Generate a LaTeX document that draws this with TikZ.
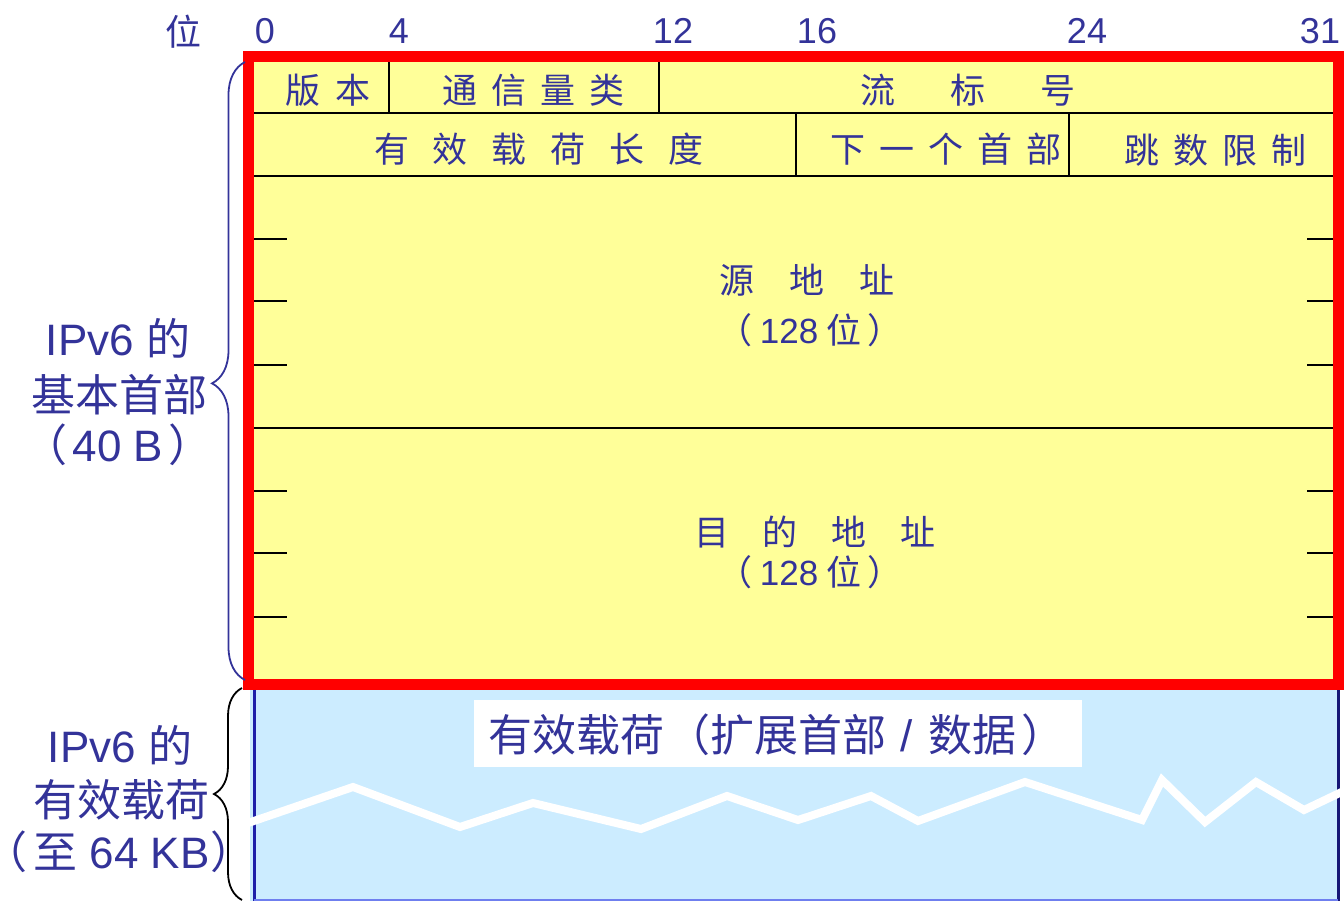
\documentclass[tikz,border=0pt]{standalone}
\usepackage{fontspec}
\setmainfont{Liberation Sans}
\newfontfamily\cjk{Noto Sans CJK SC}
\newfontfamily\cjkh{Noto Sans CJK SC}[RawFeature=+halt]
\usetikzlibrary{decorations.pathreplacing}
\definecolor{txtblue}{HTML}{333399}
\definecolor{hdryellow}{HTML}{FFFF99}
\definecolor{paylblue}{HTML}{CCECFF}
\definecolor{frred}{HTML}{FF0000}
\definecolor{edgeblue}{HTML}{1F1FA8}
\definecolor{botblue}{HTML}{6F7FEF}
\newcommand\gp[1]{\hspace{#1pt}}
\begin{document}
\begin{tikzpicture}[x=1pt,y=-1pt,
  cell/.style={text=txtblue, inner sep=0pt, font=\cjk\fontsize{35}{40}\selectfont},
  bitnum/.style={text=txtblue, inner sep=0pt, font=\fontsize{36}{40}\selectfont},
  sidelbl/.style={text=txtblue, inner sep=0pt, font=\fontsize{44}{50}\selectfont},
  gridline/.style={black, line width=1.8pt},
  ]
\useasboundingbox (0,0) rectangle (1344,901);

% payload area
\fill[paylblue] (250,684) rectangle (1340,901);
\draw[edgeblue, line width=3pt] (254,684) -- (254,901);
\draw[edgeblue!70!black, line width=3pt] (1338,684) -- (1338,901);
\draw[botblue, line width=2pt] (254,900) -- (1338,900);
\draw[white, line width=8pt, line join=miter]
  (248,823) -- (353,787) -- (460,827) -- (533,803) -- (641,829) -- (727,796)
  -- (798,820) -- (871,796) -- (918,821) -- (1025,782) -- (1142,820) -- (1162,780)
  -- (1205,822) -- (1256,782) -- (1304,810) -- (1350,788);
\node (plbox) [fill=white, inner sep=0pt, minimum width=608pt, minimum height=67pt] at (778,733.5) {};
\node[sidelbl] (pltxt) at (777,735) {\cjk 有效载荷\kern2pt（扩展首部\hspace{14pt}{\rmfamily /}\hspace{16pt}数据\kern5pt）};

% header area
\fill[hdryellow] (248,56) rectangle (1339,685);
\draw[gridline] (254,113) -- (1333,113);
\draw[gridline] (254,176) -- (1333,176);
\draw[gridline] (254,428) -- (1333,428);
\draw[gridline] (254,679.5) -- (1333,679.5);
\draw[gridline] (389,62) -- (389,113);
\draw[gridline] (659,62) -- (659,113);
\draw[gridline] (796,113) -- (796,176);
\draw[gridline] (1069,113) -- (1069,176);
\foreach \yy in {239,301,365,491,553,617} {
  \draw[gridline] (254,\yy) -- (287,\yy);
  \draw[gridline] (1307,\yy) -- (1333,\yy);
}
\draw[frred, line width=11pt] (248.5,56.5) rectangle (1338.5,684.5);

% bit numbers
\node[bitnum] (bitlbl) at (183,32) {\cjk 位};
\node[bitnum] (b0) at (265,31) {0};
\node[bitnum] (b4) at (399,31) {4};
\node[bitnum] (b12) at (673,31) {12};
\node[bitnum] (b16) at (817,31) {16};
\node[bitnum] (b24) at (1087,31) {24};
\node[bitnum] (b31) at (1320,31) {31};

% field texts
\node[cell] (ver) at (328,90) {版\gp{16}本};
\node[cell] (tc) at (533,90) {通\gp{14}信\gp{14}量\gp{14}类};
\node[cell] (fl) at (968,90) {流\gp{55}标\gp{55}号};
\node[cell] (plen) at (539,149) {有\gp{24}效\gp{24}载\gp{24}荷\gp{24}长\gp{24}度};
\node[cell] (nh) at (946,149) {下\gp{14}一\gp{14}个\gp{14}首\gp{14}部};
\node[cell] (hl) at (1215,150) {跳\gp{14}数\gp{14}限\gp{14}制};
\node[cell] (src) at (807,280) {源\gp{35}地\gp{35}址};
\node[cell] (srcb) at (810,330) {（\kern7pt{\rmfamily 128} 位\kern6pt）};
\node[cell] (dst) at (815,532) {目\gp{34}的\gp{34}地\gp{34}址};
\node[cell] (dstb) at (810,572) {（\kern7pt{\rmfamily 128} 位\kern6pt）};

% braces
\draw[txtblue, line width=1.8pt, decorate, decoration={brace, amplitude=33pt, aspect=0.48}] (245,680) -- (245,62);
\draw[black, line width=1.8pt, decorate, decoration={brace, amplitude=28pt, aspect=0.5}] (242,900) -- (242,688);

% side labels
\node[sidelbl] (hdra) at (118,338) {IPv6 {\cjk 的}};
\node[sidelbl] (hdrb) at (119,395) {\cjk 基本首部};
\node[sidelbl] (hdrc) at (118,445) {\kern-15pt{\cjk （}\kern5pt 40 B\kern5pt{\cjk ）}\kern-15pt};
\node[sidelbl] (pla) at (120,745) {IPv6 {\cjk 的}};
\node[sidelbl] (plb) at (122,800) {\cjk 有效载荷};
\node[sidelbl] (plc) at (119,852) {{\cjkh （}\kern6pt{\cjk 至} 64 KB\kern1pt{\cjkh ）}};
\end{tikzpicture}
\end{document}
